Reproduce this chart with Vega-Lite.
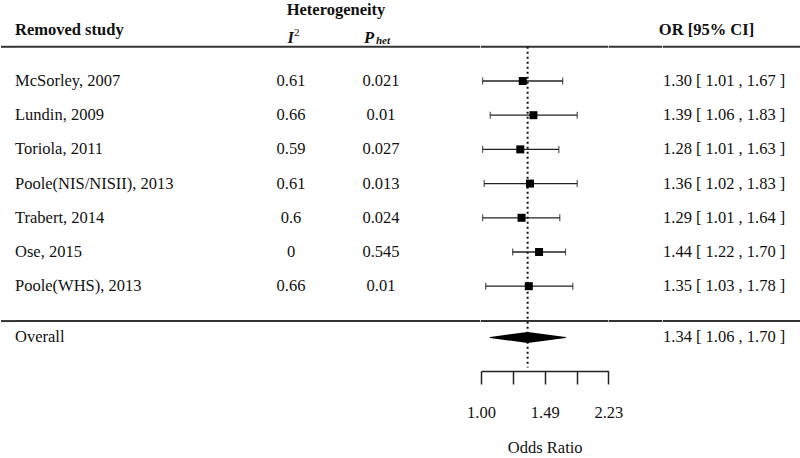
{
  "$schema": "https://vega.github.io/schema/vega-lite/v6.json",
  "padding": 0,
  "background": "white",
  "spacing": 0,
  "bounds": "flush",
  "config": {
    "view": {"stroke": null},
    "font": "Liberation Serif",
    "text": {"font": "Liberation Serif", "fontSize": 16.5, "color": "#111"}
  },
  "datasets": {
    "studies": [
      {"study": "McSorley, 2007", "kind": "study", "row": 1, "i2": "0.61", "phet": "0.021", "or": 1.30, "lo": 1.01, "hi": 1.67, "ci": "1.30 [ 1.01 , 1.67 ]"},
      {"study": "Lundin, 2009", "kind": "study", "row": 2, "i2": "0.66", "phet": "0.01", "or": 1.39, "lo": 1.06, "hi": 1.83, "ci": "1.39 [ 1.06 , 1.83 ]"},
      {"study": "Toriola, 2011", "kind": "study", "row": 3, "i2": "0.59", "phet": "0.027", "or": 1.28, "lo": 1.01, "hi": 1.63, "ci": "1.28 [ 1.01 , 1.63 ]"},
      {"study": "Poole(NIS/NISII), 2013", "kind": "study", "row": 4, "i2": "0.61", "phet": "0.013", "or": 1.36, "lo": 1.02, "hi": 1.83, "ci": "1.36 [ 1.02 , 1.83 ]"},
      {"study": "Trabert, 2014", "kind": "study", "row": 5, "i2": "0.6", "phet": "0.024", "or": 1.29, "lo": 1.01, "hi": 1.64, "ci": "1.29 [ 1.01 , 1.64 ]"},
      {"study": "Ose, 2015", "kind": "study", "row": 6, "i2": "0", "phet": "0.545", "or": 1.44, "lo": 1.22, "hi": 1.70, "ci": "1.44 [ 1.22 , 1.70 ]"},
      {"study": "Poole(WHS), 2013", "kind": "study", "row": 7, "i2": "0.66", "phet": "0.01", "or": 1.35, "lo": 1.03, "hi": 1.78, "ci": "1.35 [ 1.03 , 1.78 ]"},
      {"study": "Overall", "kind": "overall", "row": 8.5, "i2": "", "phet": "", "or": 1.34, "lo": 1.06, "hi": 1.70, "ci": "1.34 [ 1.06 , 1.70 ]"}
    ]
  },
  "resolve": {"scale": {"x": "independent", "y": "independent"}},
  "hconcat": [
    {
      "width": 14, "height": 371,
      "layer": [
        {"data": {"values": [{}]}, "mark": {"type": "rule", "color": "#333", "strokeWidth": 2}, "encoding": {"y": {"datum": 0, "type": "quantitative", "scale": {"domain": [-1.368, 9.48], "reverse": true, "nice": false, "zero": false}, "axis": null}}},
        {"data": {"values": [{}]}, "mark": {"type": "rule", "color": "#333", "strokeWidth": 2}, "encoding": {"y": {"datum": 8.02, "type": "quantitative", "scale": {"domain": [-1.368, 9.48], "reverse": true, "nice": false, "zero": false}, "axis": null}}}
      ]
    },
    {
      "width": 231, "height": 371,
      "layer": [
        {"data": {"values": [{}]}, "mark": {"type": "rule", "color": "#333", "strokeWidth": 2}, "encoding": {"y": {"datum": 0, "type": "quantitative", "scale": {"domain": [-1.368, 9.48], "reverse": true, "nice": false, "zero": false}, "axis": null}}},
        {"data": {"values": [{}]}, "mark": {"type": "rule", "color": "#333", "strokeWidth": 2}, "encoding": {"y": {"datum": 8.02, "type": "quantitative", "scale": {"domain": [-1.368, 9.48], "reverse": true, "nice": false, "zero": false}, "axis": null}}},
        {"data": {"values": [{}]}, "mark": {"type": "text", "text": "Removed study", "fontWeight": "bold", "align": "left"},
         "encoding": {"x": {"datum": 0, "type": "quantitative", "scale": {"domain": [0, 1], "nice": false, "zero": false}, "axis": null},
                      "y": {"datum": -0.49, "type": "quantitative", "scale": {"domain": [-1.368, 9.48], "reverse": true, "nice": false, "zero": false}, "axis": null}}},
        {"data": {"name": "studies"}, "mark": {"type": "text", "align": "left"},
         "encoding": {"x": {"datum": 0, "type": "quantitative", "scale": {"domain": [0, 1], "nice": false, "zero": false}, "axis": null},
                      "y": {"field": "row", "type": "quantitative", "scale": {"domain": [-1.368, 9.48], "reverse": true, "nice": false, "zero": false}, "axis": null},
                      "text": {"field": "study", "type": "nominal"}}}
      ]
    },
    {
      "width": 90, "height": 371,
      "layer": [
        {"data": {"values": [{}]}, "mark": {"type": "rule", "color": "#333", "strokeWidth": 2}, "encoding": {"y": {"datum": 0, "type": "quantitative", "scale": {"domain": [-1.368, 9.48], "reverse": true, "nice": false, "zero": false}, "axis": null}}},
        {"data": {"values": [{}]}, "mark": {"type": "rule", "color": "#333", "strokeWidth": 2}, "encoding": {"y": {"datum": 8.02, "type": "quantitative", "scale": {"domain": [-1.368, 9.48], "reverse": true, "nice": false, "zero": false}, "axis": null}}},
        {"data": {"values": [{}]}, "mark": {"type": "text", "text": "I", "fontWeight": "bold", "fontStyle": "italic", "align": "right", "dx": 3},
         "encoding": {"x": {"datum": 0.5, "type": "quantitative", "scale": {"domain": [0, 1], "nice": false, "zero": false}, "axis": null},
                      "y": {"datum": -0.27, "type": "quantitative", "scale": {"domain": [-1.368, 9.48], "reverse": true, "nice": false, "zero": false}, "axis": null}}},
        {"data": {"values": [{}]}, "mark": {"type": "text", "text": "2", "fontSize": 11, "align": "left", "dx": 3, "dy": -5},
         "encoding": {"x": {"datum": 0.5, "type": "quantitative", "scale": {"domain": [0, 1], "nice": false, "zero": false}, "axis": null},
                      "y": {"datum": -0.27, "type": "quantitative", "scale": {"domain": [-1.368, 9.48], "reverse": true, "nice": false, "zero": false}, "axis": null}}},
        {"data": {"name": "studies"}, "transform": [{"filter": "datum.kind === 'study'"}], "mark": {"type": "text", "align": "center"},
         "encoding": {"x": {"datum": 0.5, "type": "quantitative", "scale": {"domain": [0, 1], "nice": false, "zero": false}, "axis": null},
                      "y": {"field": "row", "type": "quantitative", "scale": {"domain": [-1.368, 9.48], "reverse": true, "nice": false, "zero": false}, "axis": null},
                      "text": {"field": "i2", "type": "nominal"}}}
      ]
    },
    {
      "width": 90, "height": 371,
      "layer": [
        {"data": {"values": [{}]}, "mark": {"type": "rule", "color": "#333", "strokeWidth": 2}, "encoding": {"y": {"datum": 0, "type": "quantitative", "scale": {"domain": [-1.368, 9.48], "reverse": true, "nice": false, "zero": false}, "axis": null}}},
        {"data": {"values": [{}]}, "mark": {"type": "rule", "color": "#333", "strokeWidth": 2}, "encoding": {"y": {"datum": 8.02, "type": "quantitative", "scale": {"domain": [-1.368, 9.48], "reverse": true, "nice": false, "zero": false}, "axis": null}}},
        {"data": {"values": [{}]}, "mark": {"type": "text", "text": "Heterogeneity", "fontWeight": "bold", "align": "center"},
         "encoding": {"x": {"datum": 0, "type": "quantitative", "scale": {"domain": [0, 1], "nice": false, "zero": false}, "axis": null},
                      "y": {"datum": -1.08, "type": "quantitative", "scale": {"domain": [-1.368, 9.48], "reverse": true, "nice": false, "zero": false}, "axis": null}}},
        {"data": {"values": [{}]}, "mark": {"type": "text", "text": "P", "fontWeight": "bold", "fontStyle": "italic", "align": "right", "dx": -7},
         "encoding": {"x": {"datum": 0.5, "type": "quantitative", "scale": {"domain": [0, 1], "nice": false, "zero": false}, "axis": null},
                      "y": {"datum": -0.27, "type": "quantitative", "scale": {"domain": [-1.368, 9.48], "reverse": true, "nice": false, "zero": false}, "axis": null}}},
        {"data": {"values": [{}]}, "mark": {"type": "text", "text": "het", "fontWeight": "bold", "fontStyle": "italic", "fontSize": 11, "align": "left", "dx": -5, "dy": 3},
         "encoding": {"x": {"datum": 0.5, "type": "quantitative", "scale": {"domain": [0, 1], "nice": false, "zero": false}, "axis": null},
                      "y": {"datum": -0.27, "type": "quantitative", "scale": {"domain": [-1.368, 9.48], "reverse": true, "nice": false, "zero": false}, "axis": null}}},
        {"data": {"name": "studies"}, "transform": [{"filter": "datum.kind === 'study'"}], "mark": {"type": "text", "align": "center"},
         "encoding": {"x": {"datum": 0.5, "type": "quantitative", "scale": {"domain": [0, 1], "nice": false, "zero": false}, "axis": null},
                      "y": {"field": "row", "type": "quantitative", "scale": {"domain": [-1.368, 9.48], "reverse": true, "nice": false, "zero": false}, "axis": null},
                      "text": {"field": "phet", "type": "nominal"}}}
      ]
    },
    {
      "width": 54.3, "height": 371,
      "layer": [
        {"data": {"values": [{}]}, "mark": {"type": "rule", "color": "#333", "strokeWidth": 2}, "encoding": {"y": {"datum": 0, "type": "quantitative", "scale": {"domain": [-1.368, 9.48], "reverse": true, "nice": false, "zero": false}, "axis": null}}},
        {"data": {"values": [{}]}, "mark": {"type": "rule", "color": "#333", "strokeWidth": 2}, "encoding": {"y": {"datum": 8.02, "type": "quantitative", "scale": {"domain": [-1.368, 9.48], "reverse": true, "nice": false, "zero": false}, "axis": null}}}
      ]
    },
    {
      "width": 127.4, "height": 371,
      "layer": [
        {"data": {"values": [{}]}, "mark": {"type": "rule", "color": "#333", "strokeWidth": 2}, "encoding": {"y": {"datum": 0, "type": "quantitative", "scale": {"domain": [-1.368, 9.48], "reverse": true, "nice": false, "zero": false}, "axis": null}}},
        {"data": {"values": [{}]}, "mark": {"type": "rule", "color": "#333", "strokeWidth": 2}, "encoding": {"y": {"datum": 8.02, "type": "quantitative", "scale": {"domain": [-1.368, 9.48], "reverse": true, "nice": false, "zero": false}, "axis": null}}},
        {"data": {"name": "studies"}, "transform": [{"filter": "datum.kind === 'overall'"}],
         "mark": {"type": "rule", "color": "#111", "strokeWidth": 2, "strokeDash": [2, 3]},
         "encoding": {
           "x": {"field": "or", "type": "quantitative", "title": "Odds Ratio", "scale": {"type": "log", "domain": [1, 2.225541], "nice": false, "zero": false},
                 "axis": {"values": [1, 1.221403, 1.491825, 1.822119, 2.225541], "labelExpr": "(abs(datum.value - 1) < 0.001 || abs(datum.value - 1.491825) < 0.001 || abs(datum.value - 2.225541) < 0.001) ? format(datum.value, '.2f') : ''", "grid": false, "tickSize": 13, "tickWidth": 1.5, "tickColor": "#222", "domainColor": "#222", "domainWidth": 1.5, "labelFont": "Liberation Serif", "labelFontSize": 16.5, "labelColor": "#111", "labelPadding": 20, "labelFlush": false, "labelOverlap": false, "titleFont": "Liberation Serif", "titleFontSize": 16.5, "titleFontWeight": "normal", "titleColor": "#111", "titlePadding": 19}},
           "y": {"datum": 0, "type": "quantitative", "scale": {"domain": [-1.368, 9.48], "reverse": true, "nice": false, "zero": false}, "axis": null},
           "y2": {"datum": 9.38}
         }},
        {"data": {"name": "studies"}, "transform": [{"filter": "datum.kind === 'study'"}],
         "mark": {"type": "rule", "color": "#222", "strokeWidth": 1.3},
         "encoding": {
           "x": {"field": "lo", "type": "quantitative", "title": "Odds Ratio", "scale": {"type": "log", "domain": [1, 2.225541], "nice": false, "zero": false},
                 "axis": {"values": [1, 1.221403, 1.491825, 1.822119, 2.225541], "labelExpr": "(abs(datum.value - 1) < 0.001 || abs(datum.value - 1.491825) < 0.001 || abs(datum.value - 2.225541) < 0.001) ? format(datum.value, '.2f') : ''", "grid": false, "tickSize": 13, "tickWidth": 1.5, "tickColor": "#222", "domainColor": "#222", "domainWidth": 1.5, "labelFont": "Liberation Serif", "labelFontSize": 16.5, "labelColor": "#111", "labelPadding": 20, "labelFlush": false, "labelOverlap": false, "titleFont": "Liberation Serif", "titleFontSize": 16.5, "titleFontWeight": "normal", "titleColor": "#111", "titlePadding": 19}},
           "x2": {"field": "hi"},
           "y": {"field": "row", "type": "quantitative", "scale": {"domain": [-1.368, 9.48], "reverse": true, "nice": false, "zero": false}, "axis": null}
         }},
        {"data": {"name": "studies"}, "transform": [{"filter": "datum.kind === 'study'"}, {"fold": ["lo", "hi"], "as": ["end", "bound"]}],
         "mark": {"type": "tick", "orient": "vertical", "size": 7, "thickness": 1.3, "color": "#222"},
         "encoding": {
           "x": {"field": "bound", "type": "quantitative", "title": "Odds Ratio", "scale": {"type": "log", "domain": [1, 2.225541], "nice": false, "zero": false},
                 "axis": {"values": [1, 1.221403, 1.491825, 1.822119, 2.225541], "labelExpr": "(abs(datum.value - 1) < 0.001 || abs(datum.value - 1.491825) < 0.001 || abs(datum.value - 2.225541) < 0.001) ? format(datum.value, '.2f') : ''", "grid": false, "tickSize": 13, "tickWidth": 1.5, "tickColor": "#222", "domainColor": "#222", "domainWidth": 1.5, "labelFont": "Liberation Serif", "labelFontSize": 16.5, "labelColor": "#111", "labelPadding": 20, "labelFlush": false, "labelOverlap": false, "titleFont": "Liberation Serif", "titleFontSize": 16.5, "titleFontWeight": "normal", "titleColor": "#111", "titlePadding": 19}},
           "y": {"field": "row", "type": "quantitative", "scale": {"domain": [-1.368, 9.48], "reverse": true, "nice": false, "zero": false}, "axis": null}
         }},
        {"data": {"name": "studies"}, "transform": [{"filter": "datum.kind === 'study'"}],
         "mark": {"type": "point", "shape": "square", "filled": true, "size": 64, "color": "#000", "opacity": 1},
         "encoding": {
           "x": {"field": "or", "type": "quantitative", "title": "Odds Ratio", "scale": {"type": "log", "domain": [1, 2.225541], "nice": false, "zero": false},
                 "axis": {"values": [1, 1.221403, 1.491825, 1.822119, 2.225541], "labelExpr": "(abs(datum.value - 1) < 0.001 || abs(datum.value - 1.491825) < 0.001 || abs(datum.value - 2.225541) < 0.001) ? format(datum.value, '.2f') : ''", "grid": false, "tickSize": 13, "tickWidth": 1.5, "tickColor": "#222", "domainColor": "#222", "domainWidth": 1.5, "labelFont": "Liberation Serif", "labelFontSize": 16.5, "labelColor": "#111", "labelPadding": 20, "labelFlush": false, "labelOverlap": false, "titleFont": "Liberation Serif", "titleFontSize": 16.5, "titleFontWeight": "normal", "titleColor": "#111", "titlePadding": 19}},
           "y": {"field": "row", "type": "quantitative", "scale": {"domain": [-1.368, 9.48], "reverse": true, "nice": false, "zero": false}, "axis": null}
         }},
        {"data": {"name": "studies"}, "transform": [{"filter": "datum.kind === 'overall'"}, {"fold": ["lo", "or", "hi"], "as": ["part", "pos"]}],
         "mark": {"type": "trail", "color": "#000"},
         "encoding": {
           "x": {"field": "pos", "type": "quantitative", "title": "Odds Ratio", "scale": {"type": "log", "domain": [1, 2.225541], "nice": false, "zero": false},
                 "axis": {"values": [1, 1.221403, 1.491825, 1.822119, 2.225541], "labelExpr": "(abs(datum.value - 1) < 0.001 || abs(datum.value - 1.491825) < 0.001 || abs(datum.value - 2.225541) < 0.001) ? format(datum.value, '.2f') : ''", "grid": false, "tickSize": 13, "tickWidth": 1.5, "tickColor": "#222", "domainColor": "#222", "domainWidth": 1.5, "labelFont": "Liberation Serif", "labelFontSize": 16.5, "labelColor": "#111", "labelPadding": 20, "labelFlush": false, "labelOverlap": false, "titleFont": "Liberation Serif", "titleFontSize": 16.5, "titleFontWeight": "normal", "titleColor": "#111", "titlePadding": 19}},
           "y": {"field": "row", "type": "quantitative", "scale": {"domain": [-1.368, 9.48], "reverse": true, "nice": false, "zero": false}, "axis": null},
           "size": {"condition": {"test": "datum.part === 'or'", "value": 11}, "value": 0}
         }}
      ]
    },
    {
      "width": 53.3, "height": 371,
      "layer": [
        {"data": {"values": [{}]}, "mark": {"type": "rule", "color": "#333", "strokeWidth": 2}, "encoding": {"y": {"datum": 0, "type": "quantitative", "scale": {"domain": [-1.368, 9.48], "reverse": true, "nice": false, "zero": false}, "axis": null}}},
        {"data": {"values": [{}]}, "mark": {"type": "rule", "color": "#333", "strokeWidth": 2}, "encoding": {"y": {"datum": 8.02, "type": "quantitative", "scale": {"domain": [-1.368, 9.48], "reverse": true, "nice": false, "zero": false}, "axis": null}}}
      ]
    },
    {
      "width": 87, "height": 371,
      "layer": [
        {"data": {"values": [{}]}, "mark": {"type": "rule", "color": "#333", "strokeWidth": 2}, "encoding": {"y": {"datum": 0, "type": "quantitative", "scale": {"domain": [-1.368, 9.48], "reverse": true, "nice": false, "zero": false}, "axis": null}}},
        {"data": {"values": [{}]}, "mark": {"type": "rule", "color": "#333", "strokeWidth": 2}, "encoding": {"y": {"datum": 8.02, "type": "quantitative", "scale": {"domain": [-1.368, 9.48], "reverse": true, "nice": false, "zero": false}, "axis": null}}},
        {"data": {"values": [{}]}, "mark": {"type": "text", "text": "OR [95% CI]", "fontWeight": "bold", "align": "center"},
         "encoding": {"x": {"datum": 0.5, "type": "quantitative", "scale": {"domain": [0, 1], "nice": false, "zero": false}, "axis": null},
                      "y": {"datum": -0.49, "type": "quantitative", "scale": {"domain": [-1.368, 9.48], "reverse": true, "nice": false, "zero": false}, "axis": null}}},
        {"data": {"name": "studies"}, "mark": {"type": "text", "align": "left"},
         "encoding": {"x": {"datum": 0, "type": "quantitative", "scale": {"domain": [0, 1], "nice": false, "zero": false}, "axis": null},
                      "y": {"field": "row", "type": "quantitative", "scale": {"domain": [-1.368, 9.48], "reverse": true, "nice": false, "zero": false}, "axis": null},
                      "text": {"field": "ci", "type": "nominal"}}}
      ]
    },
    {
      "width": 51, "height": 371,
      "layer": [
        {"data": {"values": [{}]}, "mark": {"type": "rule", "color": "#333", "strokeWidth": 2}, "encoding": {"y": {"datum": 0, "type": "quantitative", "scale": {"domain": [-1.368, 9.48], "reverse": true, "nice": false, "zero": false}, "axis": null}}},
        {"data": {"values": [{}]}, "mark": {"type": "rule", "color": "#333", "strokeWidth": 2}, "encoding": {"y": {"datum": 8.02, "type": "quantitative", "scale": {"domain": [-1.368, 9.48], "reverse": true, "nice": false, "zero": false}, "axis": null}}}
      ]
    }
  ]
}
